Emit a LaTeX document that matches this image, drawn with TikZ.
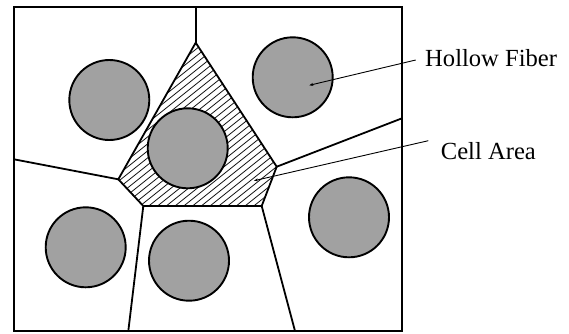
\documentclass[tikz,border=0pt]{standalone}
\usepackage{fontspec}
\setmainfont{Liberation Serif}
\usetikzlibrary{arrows.meta}
\definecolor{fibergray}{gray}{0.63}
\tikzset{
  fiber/.style={circle,draw=black,line width=1.9pt,fill=fibergray,minimum size=80pt,inner sep=0pt},
  wall/.style={line width=1.8pt,line cap=round,line join=round},
  frame/.style={line width=1.4pt},
  hatchline/.style={line width=0.75pt},
  pointer/.style={line width=0.9pt,-{Stealth[length=4pt,width=3pt]}},
  label/.style={font=\fontsize{24.6pt}{28pt}\selectfont,anchor=west,inner sep=0pt}
}
\begin{document}
\begin{tikzpicture}[x=1pt,y=-1pt]
\useasboundingbox (0,0) rectangle (569,333);
% frame
\draw[frame] (14,7) rectangle (402,331);
% vertices of the cell
\coordinate (A) at (195.7,42.7);
\coordinate (B) at (276.7,166.7);
\coordinate (C) at (261.7,206);
\coordinate (D) at (143.3,206);
\coordinate (E) at (118.3,179.3);
% ends of walls on the frame
\coordinate (At) at (195.7,7);
\coordinate (Br) at (402,118.3);
\coordinate (Cb) at (295,331);
\coordinate (Db) at (128.3,331);
\coordinate (El) at (14,159.3);
% hatching
\begin{scope}
\clip (A) -- (B) -- (C) -- (D) -- (E) -- cycle;
\foreach \c in {192,199,...,430}
  \draw[hatchline] (0,\c) -- (400,\c-320);
\end{scope}
% walls
\draw[wall] (A) -- (B) -- (C) -- (D) -- (E) -- cycle;
\draw[wall] (A) -- (At);
\draw[wall] (B) -- (Br);
\draw[wall] (C) -- (Cb);
\draw[wall] (D) -- (Db);
\draw[wall] (E) -- (El);
% fibers
\node[fiber] (f1) at (109.3,100) {};
\node[fiber] (f2) at (187.7,148.3) {};
\node[fiber] (f3) at (292.7,77.3) {};
\node[fiber] (f4) at (85.7,247.3) {};
\node[fiber] (f5) at (189,260.7) {};
\node[fiber] (f6) at (349,217.3) {};
% labels
\node[label] (hf) at (425,58.5) {Hollow Fiber};
\node[label] (ca) at (440.7,151) {Cell Area};
\coordinate (hfs) at (415.7,60);
\coordinate (hft) at (309.3,85.3);
\coordinate (cas) at (428.3,140.7);
\coordinate (cat) at (254,180.7);
\draw[pointer] (hfs) -- (hft);
\draw[pointer] (cas) -- (cat);
\end{tikzpicture}
\end{document}
